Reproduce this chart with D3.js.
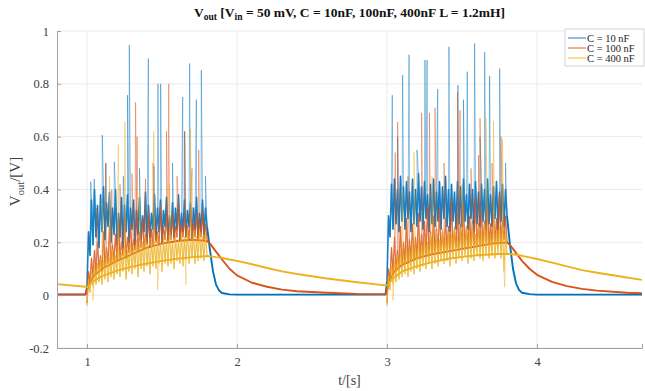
<!DOCTYPE html>
<html><head><meta charset="utf-8">
<script src="https://cdn.jsdelivr.net/npm/d3@7"></script>
<style>body{margin:0;background:#fff}svg{display:block}</style>
</head><body>
<script>
// ---------------- DATA ----------------
const xTicks = [1, 2, 3, 4];
const yTicks = [-0.2, 0, 0.2, 0.4, 0.6, 0.8, 1];
const seriesNames = ["C = 10 nF", "C = 100 nF", "C = 400 nF"];
const seriesColors = ["#0072BD", "#D95319", "#EDB120"];

// smooth (envelope) part of each trace, time in s  (null = hidden inside noise)
const coreT = [0.8, 0.99, 1.0, 1.02, 1.05, 1.1, 1.2, 1.3, 1.4, 1.5, 1.6, 1.7, 1.8,
  1.82, 1.84, 1.86, 1.88, 1.9, 1.95, 2.0, 2.1, 2.2, 2.3, 2.4, 2.6, 2.8, 2.99,
  3.0, 3.02, 3.05, 3.1, 3.2, 3.3, 3.4, 3.5, 3.6, 3.7, 3.8,
  3.82, 3.84, 3.86, 3.88, 3.9, 3.95, 4.0, 4.1, 4.2, 4.3, 4.4, 4.6, 4.7];
const blueCore = [0.002, 0.002, 0.03, null, null, null, null, null, null, null, null, null, 0.26,
  0.17, 0.09, 0.04, 0.018, 0.008, 0.003, 0.002, 0.002, 0.002, 0.002, 0.002, 0.002, 0.002, 0.002,
  0.05, null, null, null, null, null, null, null, null, null, 0.30,
  0.19, 0.10, 0.045, 0.02, 0.009, 0.004, 0.002, 0.002, 0.002, 0.002, 0.002, 0.002, 0.002];
const redCore = [0.003, 0.003, 0.02, 0.05, 0.075, 0.10, 0.13, 0.155, 0.18, 0.195, 0.205, 0.21, 0.205,
  0.195, 0.18, 0.165, 0.15, 0.135, 0.10, 0.075, 0.047, 0.032, 0.021, 0.015, 0.009, 0.005, 0.004,
  0.02, 0.06, 0.09, 0.115, 0.14, 0.155, 0.165, 0.175, 0.185, 0.195, 0.20,
  0.19, 0.175, 0.16, 0.145, 0.13, 0.10, 0.077, 0.05, 0.034, 0.024, 0.017, 0.009, 0.007];
const yellowCore = [0.042, 0.032, 0.03, 0.04, 0.055, 0.072, 0.093, 0.108, 0.12, 0.13, 0.138, 0.144, 0.148,
  0.147, 0.146, 0.144, 0.143, 0.141, 0.135, 0.13, 0.117, 0.103, 0.09, 0.08, 0.063, 0.049, 0.037,
  0.036, 0.05, 0.068, 0.09, 0.11, 0.125, 0.137, 0.145, 0.151, 0.155, 0.157,
  0.156, 0.155, 0.153, 0.151, 0.149, 0.143, 0.137, 0.123, 0.109, 0.095, 0.085, 0.067, 0.058];

// noisy samples during the two excitation windows (sampled every 10 ms)
const pulseStarts = [1.0, 3.0];
const pulseStep = 0.01;
const blueNoise1 = [0.03, 0.24, 0.15, 0.36, 0.19, 0.40, 0.22, 0.34, 0.18, 0.38, 0.24, 0.41, 0.21, 0.35, 0.26, 0.39,
  0.20, 0.33, 0.23, 0.40, 0.19, 0.31, 0.22, 0.37, 0.18, 0.34, 0.24, 0.38, 0.20, 0.33, 0.25, 0.36,
  0.19, 0.32, 0.23, 0.37, 0.21, 0.30, 0.24, 0.39, 0.20, 0.34, 0.22, 0.31, 0.25, 0.38, 0.21, 0.33,
  0.24, 0.36, 0.20, 0.32, 0.26, 0.37, 0.21, 0.30, 0.23, 0.35, 0.22, 0.33, 0.25, 0.38, 0.21, 0.31,
  0.24, 0.36, 0.22, 0.32, 0.26, 0.35, 0.21, 0.33, 0.25, 0.37, 0.22, 0.31, 0.24, 0.36, 0.23, 0.33, 0.26];
const blueNoise2 = [0.05, 0.30, 0.22, 0.42, 0.25, 0.44, 0.27, 0.40, 0.24, 0.45, 0.28, 0.41, 0.25, 0.43, 0.29, 0.39,
  0.24, 0.44, 0.27, 0.40, 0.26, 0.46, 0.28, 0.41, 0.25, 0.43, 0.29, 0.38, 0.24, 0.42, 0.27, 0.44,
  0.26, 0.39, 0.28, 0.43, 0.25, 0.41, 0.29, 0.45, 0.26, 0.40, 0.24, 0.42, 0.28, 0.39, 0.25, 0.43,
  0.27, 0.41, 0.26, 0.44, 0.28, 0.38, 0.25, 0.42, 0.29, 0.40, 0.24, 0.43, 0.27, 0.39, 0.26, 0.42,
  0.28, 0.40, 0.25, 0.44, 0.27, 0.38, 0.26, 0.41, 0.29, 0.43, 0.25, 0.39, 0.28, 0.42, 0.26, 0.40, 0.30];
const redNoise1 = [-0.03, 0.09, 0.05, 0.14, 0.07, 0.17, 0.08, 0.20, 0.10, 0.15, 0.09, 0.24, 0.11, 0.18, 0.12, 0.26,
  0.12, 0.19, 0.13, 0.23, 0.13, 0.28, 0.14, 0.20, 0.15, 0.30, 0.14, 0.22, 0.16, 0.27, 0.16, 0.21,
  0.17, 0.33, 0.17, 0.24, 0.18, 0.29, 0.18, 0.23, 0.19, 0.32, 0.18, 0.25, 0.19, 0.28, 0.20, 0.24,
  0.19, 0.34, 0.20, 0.26, 0.21, 0.30, 0.20, 0.25, 0.21, 0.31, 0.21, 0.26, 0.22, 0.35, 0.21, 0.27,
  0.22, 0.30, 0.22, 0.26, 0.21, 0.33, 0.22, 0.27, 0.22, 0.31, 0.21, 0.28, 0.22, 0.32, 0.21, 0.27, 0.21];
const redNoise2 = [-0.03, 0.10, 0.06, 0.18, 0.08, 0.22, 0.09, 0.17, 0.10, 0.26, 0.11, 0.20, 0.12, 0.29, 0.12, 0.21,
  0.13, 0.27, 0.13, 0.22, 0.14, 0.31, 0.14, 0.23, 0.15, 0.28, 0.15, 0.34, 0.15, 0.24, 0.16, 0.30,
  0.16, 0.25, 0.16, 0.33, 0.17, 0.24, 0.16, 0.29, 0.17, 0.26, 0.17, 0.36, 0.17, 0.25, 0.18, 0.31,
  0.17, 0.27, 0.18, 0.34, 0.18, 0.26, 0.18, 0.30, 0.19, 0.28, 0.19, 0.37, 0.19, 0.27, 0.19, 0.32,
  0.19, 0.28, 0.20, 0.35, 0.19, 0.27, 0.20, 0.31, 0.20, 0.29, 0.20, 0.38, 0.20, 0.28, 0.21, 0.30, 0.20];
const yellowNoise1 = [-0.04, 0.06, 0.01, 0.09, 0.03, 0.11, 0.04, 0.12, 0.05, 0.14, 0.04, 0.13, 0.06, 0.16, 0.05, 0.14,
  0.07, 0.17, 0.06, 0.15, 0.08, 0.18, 0.07, 0.16, 0.09, 0.19, 0.06, 0.17, 0.09, 0.20, 0.08, 0.18,
  0.10, 0.21, 0.07, 0.19, 0.10, 0.20, 0.09, 0.22, 0.11, 0.19, 0.08, 0.21, 0.11, 0.20, 0.10, 0.23,
  0.12, 0.20, 0.09, 0.22, 0.12, 0.21, 0.11, 0.24, 0.12, 0.20, 0.10, 0.23, 0.13, 0.21, 0.12, 0.24,
  0.11, 0.22, 0.13, 0.25, 0.12, 0.21, 0.14, 0.24, 0.12, 0.22, 0.13, 0.25, 0.14, 0.22, 0.13, 0.24, 0.15];
const yellowNoise2 = [-0.04, 0.07, 0.02, 0.11, 0.04, 0.13, 0.05, 0.15, 0.06, 0.17, 0.07, 0.15, 0.08, 0.19, 0.07, 0.17,
  0.09, 0.20, 0.08, 0.18, 0.10, 0.21, 0.09, 0.19, 0.11, 0.22, 0.10, 0.20, 0.12, 0.23, 0.10, 0.21,
  0.12, 0.24, 0.11, 0.21, 0.13, 0.25, 0.12, 0.22, 0.13, 0.24, 0.11, 0.23, 0.14, 0.26, 0.12, 0.22,
  0.14, 0.25, 0.13, 0.23, 0.15, 0.26, 0.12, 0.24, 0.14, 0.27, 0.13, 0.23, 0.15, 0.26, 0.14, 0.24,
  0.13, 0.27, 0.15, 0.25, 0.14, 0.23, 0.15, 0.27, 0.14, 0.24, 0.16, 0.26, 0.14, 0.25, 0.09, 0.24, 0.16];

// isolated single-sample spikes [t, V]
const blueSpikes = [[1.025, 0.43], [1.048, 0.44], [1.102, 0.606], [1.126, 0.50], [1.182, 0.505], [1.242, 0.45],
  [1.27, 0.757], [1.282, 0.947], [1.35, 0.48], [1.409, 0.896], [1.447, 0.49], [1.473, 0.80], [1.491, 0.80],
  [1.57, 0.50], [1.638, 0.75], [1.65, 0.62], [1.684, 0.877], [1.729, 0.74], [1.762, 0.852], [1.79, 0.45],
  [3.035, 0.757], [3.071, 0.60], [3.104, 0.833], [3.147, 0.91], [3.20, 0.55], [3.253, 0.89], [3.267, 0.89],
  [3.338, 0.78], [3.413, 0.94], [3.473, 0.795], [3.51, 0.74], [3.535, 0.846], [3.584, 0.953], [3.62, 0.60],
  [3.651, 0.92], [3.684, 0.83], [3.751, 0.858], [3.79, 0.50]];
const redSpikes = [[1.065, 0.33], [1.124, 0.50], [1.165, 0.40], [1.22, 0.42], [1.30, 0.46], [1.324, 0.73],
  [1.334, 0.60], [1.39, 0.44], [1.44, 0.50], [1.53, 0.62], [1.545, 0.80], [1.60, 0.45], [1.652, 0.62],
  [1.70, 0.48], [1.745, 0.55],
  [3.055, 0.54], [3.071, 0.656], [3.14, 0.45], [3.231, 0.69], [3.283, 0.69], [3.32, 0.71], [3.38, 0.50],
  [3.47, 0.77], [3.487, 0.70], [3.56, 0.48], [3.61, 0.53], [3.62, 0.67], [3.70, 0.50], [3.76, 0.60]];
const yellowSpikes = [[1.04, -0.02], [1.10, 0.35], [1.15, 0.45], [1.209, 0.57], [1.253, 0.656], [1.35, 0.40],
  [1.445, 0.62], [1.47, 0.02], [1.55, 0.42], [1.66, 0.04], [1.69, 0.63],
  [3.04, -0.02], [3.10, 0.40], [3.18, 0.54], [3.30, 0.45], [3.50, 0.42], [3.66, 0.67], [3.71, 0.66],
  [3.77, 0.59], [3.785, 0.03]];

// ---------------- CHART ----------------
const W = 645, H = 391;
const m = {left: 57, right: 3, top: 31, bottom: 43};
const x = d3.scaleLinear().domain([0.8, 4.7]).range([m.left, W - m.right]);
const y = d3.scaleLinear().domain([-0.2, 1]).range([H - m.bottom, m.top]);
const serif = "'Liberation Serif','Times New Roman',serif";

const svg = d3.select("body").append("svg").attr("width", W).attr("height", H);
svg.append("defs").append("clipPath").attr("id", "clip")
  .append("rect").attr("x", m.left).attr("y", m.top)
  .attr("width", W - m.right - m.left).attr("height", H - m.bottom - m.top);

// grid
const grid = svg.append("g").attr("stroke", "#e6e6e6").attr("stroke-width", 0.8);
grid.selectAll(".gx").data(xTicks).join("line")
  .attr("x1", d => x(d)).attr("x2", d => x(d)).attr("y1", m.top).attr("y2", H - m.bottom);
grid.selectAll(".gy").data(yTicks).join("line")
  .attr("y1", d => y(d)).attr("y2", d => y(d)).attr("x1", m.left).attr("x2", W - m.right);

// series
const cores = [blueCore, redCore, yellowCore];
const noises = [[blueNoise1, blueNoise2], [redNoise1, redNoise2], [yellowNoise1, yellowNoise2]];
const spikes = [blueSpikes, redSpikes, yellowSpikes];
const line = d3.line().defined(d => d[1] !== null).x(d => x(d[0])).y(d => y(d[1]));
const plot = svg.append("g").attr("clip-path", "url(#clip)").attr("fill", "none");

function bandPoints(start, vals) {
  return vals.map((v, i) => [start + i * pulseStep, v]);
}
function noisePoints(start, vals, sp) {
  const pts = bandPoints(start, vals);
  const end = start + (vals.length - 1) * pulseStep;
  sp.filter(s => s[0] > start && s[0] < end).forEach(s => pts.push(s));
  pts.sort((a, b) => a[0] - b[0]);
  return pts;
}
const bandWidth = [1.6, 1.25, 1.1], bandOpacity = [0.85, 0.72, 0.7];

cores.forEach((core, k) => {
  const g = plot.append("g");
  pulseStarts.forEach((s, j) => {
    g.append("path").attr("d", line(noisePoints(s, noises[k][j], spikes[k])))
      .attr("stroke", seriesColors[k]).attr("stroke-width", 0.8)
      .attr("stroke-opacity", 0.55).attr("stroke-linejoin", "round");
    g.append("path").attr("d", line(bandPoints(s, noises[k][j])))
      .attr("stroke", seriesColors[k]).attr("stroke-width", bandWidth[k])
      .attr("stroke-opacity", bandOpacity[k]).attr("stroke-linejoin", "round");
  });
  const corePts = coreT.map((t, i) => [t, core[i]]);
  g.append("path").attr("d", line(corePts))
    .attr("stroke", seriesColors[k]).attr("stroke-width", 1.9)
    .attr("stroke-linejoin", "round");
});

// axes
const axisColor = "#a0a0a0", textColor = "#404040";
const xAxis = svg.append("g").attr("transform", `translate(0,${H - m.bottom})`)
  .call(d3.axisBottom(x).tickValues(xTicks).tickSize(-4).tickPadding(9).tickFormat(d3.format("d")));
const yAxis = svg.append("g").attr("transform", `translate(${m.left},0)`)
  .call(d3.axisLeft(y).tickValues(yTicks).tickSize(-4).tickPadding(8).tickFormat(d => String(d)));
[xAxis, yAxis].forEach(a => {
  a.select(".domain").attr("stroke", axisColor);
  a.selectAll(".tick line").attr("stroke", axisColor);
  a.selectAll("text").attr("fill", textColor).attr("font-family", serif).attr("font-size", 12.5);
});

// axis labels
svg.append("text").attr("x", (m.left + W - m.right) / 2).attr("y", 385)
  .attr("text-anchor", "middle").attr("font-family", serif).attr("font-size", 14).attr("fill", textColor)
  .text("t/[s]");
const yl = svg.append("text").attr("transform", `translate(20,${(m.top + H - m.bottom) / 2 - 8}) rotate(-90)`)
  .attr("text-anchor", "middle").attr("font-family", serif).attr("font-size", 15).attr("fill", textColor);
yl.append("tspan").text("V");
yl.append("tspan").attr("font-size", 10.5).attr("dy", 3.5).text("out");
yl.append("tspan").attr("dy", -3.5).text("/[V]");

// title
const tt = svg.append("text").attr("x", (m.left + W - m.right) / 2).attr("y", 17)
  .attr("text-anchor", "middle").attr("font-family", serif).attr("font-size", 13.5)
  .attr("font-weight", "bold").attr("fill", "#111");
tt.append("tspan").text("V");
tt.append("tspan").attr("font-size", 9.5).attr("dy", 3).text("out");
tt.append("tspan").attr("dy", -3).text(" [V");
tt.append("tspan").attr("font-size", 9.5).attr("dy", 3).text("in");
tt.append("tspan").attr("dy", -3).text(" = 50 mV, C = 10nF, 100nF, 400nF L = 1.2mH]");

// legend
const lg = svg.append("g").attr("transform", "translate(565,29)");
lg.append("rect").attr("width", 79).attr("height", 37).attr("fill", "#fff")
  .attr("stroke", "#c8c8c8").attr("stroke-width", 0.8);
seriesNames.forEach((n, i) => {
  const yy = 9 + i * 10;
  lg.append("line").attr("x1", 3).attr("x2", 21).attr("y1", yy).attr("y2", yy)
    .attr("stroke", seriesColors[i]).attr("stroke-width", 0.9);
  lg.append("text").attr("x", 22).attr("y", yy + 3.5).attr("font-family", serif)
    .attr("font-size", 10.5).attr("fill", "#222").text(n);
});
</script>
</body></html>
